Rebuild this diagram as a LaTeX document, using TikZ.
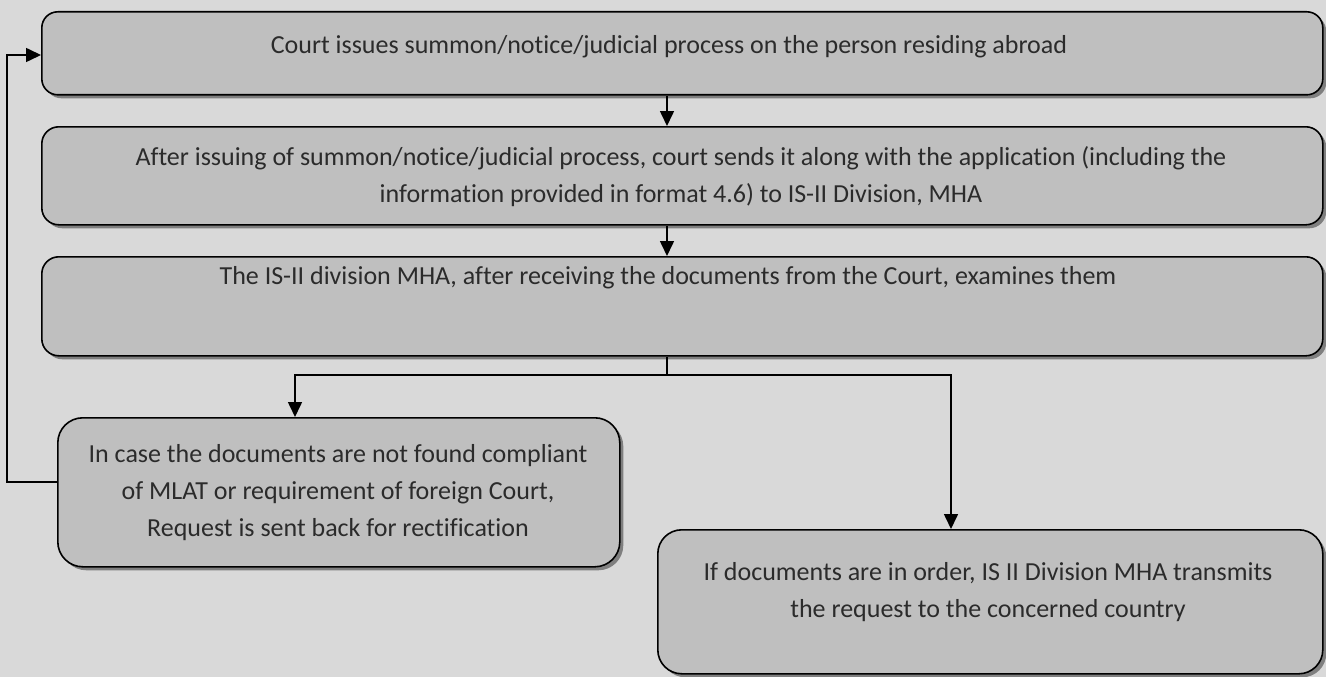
\documentclass[tikz,border=0pt]{standalone}
\usepackage{fontspec}
\setmainfont[Ligatures=CommonOff]{Carlito}
\usetikzlibrary{shadows,arrows.meta,positioning}
\definecolor{bgc}{HTML}{D9D9D9}
\definecolor{boxc}{HTML}{BFBFBF}
\definecolor{shc}{HTML}{7F7F7F}
\definecolor{txtc}{HTML}{2B2B2B}
\tikzset{
  flowbox/.style={draw=black, line width=1.6pt, fill=boxc, inner sep=0pt, anchor=north west,
    drop shadow={shadow xshift=3.5pt, shadow yshift=-3.5pt, fill=shc, opacity=1}},
  flowtext/.style={text=txtc, align=center, font=\fontsize{26}{37}\selectfont, inner sep=0pt},
  conn/.style={draw=black, line width=1.6pt},
  arr/.style={conn, -{Triangle[length=15pt,width=14pt]}}
}
\begin{document}
\begin{tikzpicture}[x=1pt,y=-1pt]
\useasboundingbox[fill=bgc] (0,0) rectangle (1326,677);
% boxes
\node[flowbox, rounded corners=16pt, minimum width=1281pt, minimum height=83pt] (b1) at (41,11) {};
\node[flowbox, rounded corners=17pt, minimum width=1281pt, minimum height=98pt] (b2) at (41,126) {};
\node[flowbox, rounded corners=17pt, minimum width=1281pt, minimum height=99pt] (b3) at (41,256) {};
\node[flowbox, rounded corners=25pt, minimum width=562pt, minimum height=149pt] (b4) at (57,417) {};
\node[flowbox, rounded corners=24pt, minimum width=665pt, minimum height=144pt] (b5) at (657,529) {};
% texts
\node[flowtext] (t1) at (669,47) {Court issues summon/notice/judicial process on the person residing abroad};
\node[flowtext] (t2) at (681,177) {After issuing of summon/notice/judicial process, court sends it along with the application (including the\\information provided in format 4.6) to IS-II Division, MHA};
\node[flowtext] (t3) at (668,278) {The IS-II division MHA, after receiving the documents from the Court, examines them};
\node[flowtext] (t4) at (338,493) {In case the documents are not found compliant\\of MLAT or requirement of foreign Court,\\Request is sent back for rectification};
\node[flowtext] (t5) at (988,592) {If documents are in order, IS II Division MHA transmits\\the request to the concerned country};
% helper coordinates
\coordinate (xm) at (667,0);
\coordinate (xl) at (295,0);
\coordinate (xr) at (951,0);
\coordinate (xf) at (7,0);
\coordinate (yf) at (0,55);
\coordinate (yj) at (0,375);
\coordinate (yb) at (0,482);
% connectors
\draw[arr] (b1.south -| xm) -- (b2.north -| xm);
\draw[arr] (b2.south -| xm) -- (b3.north -| xm);
\draw[conn] (b3.south -| xm) -- (xm |- yj) coordinate (j);
\draw[arr] (j) -| (b4.north -| xl);
\draw[arr] (j) -| (b5.north -| xr);
\draw[arr] (b4.west |- yb) -| (xf |- yf) -- (b1.west |- yf);
\end{tikzpicture}
\end{document}
